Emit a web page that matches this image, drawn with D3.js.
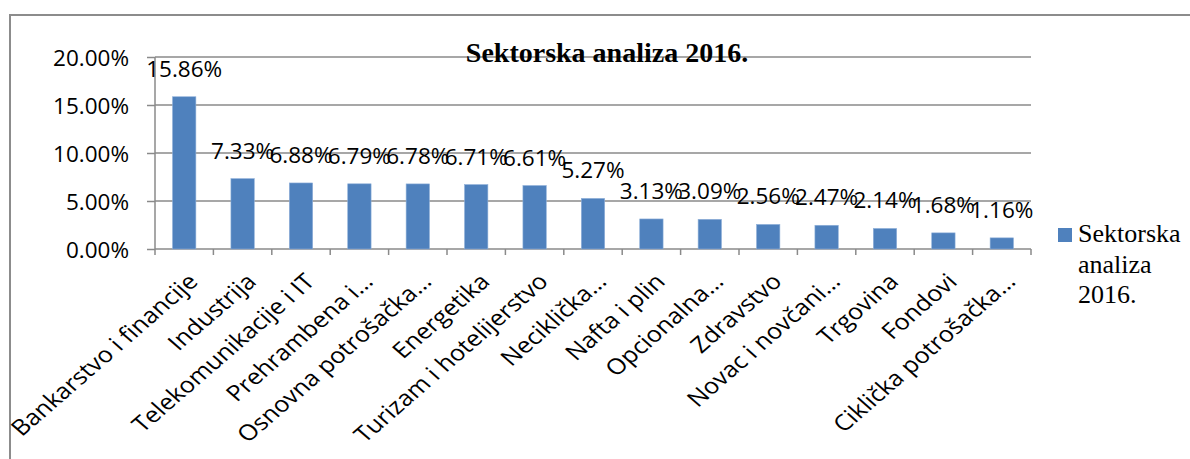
<!DOCTYPE html>
<html lang="hr">
<meta charset="utf-8" />
<style>
    body { margin: 0; background: #fff; }
    .grid line { stroke: #8a8a8a; stroke-width: 1.5px; }
    .axis path, .axis line { stroke: #8a8a8a; stroke-width: 1.5px; }
    .lbl { font-family: "Open Sans", sans-serif; fill: #000; }
</style>
<body>
<svg width="1190" height="459"></svg>
<script src="https://d3js.org/d3.v7.min.js"></script>
<script>
    // podaci
    var sectors = ["Bankarstvo i financije", "Industrija", "Telekomunikacije i IT", "Prehrambena i…",
        "Osnovna potrošačka…", "Energetika", "Turizam i hotelijerstvo", "Neciklička…", "Nafta i plin",
        "Opcionalna…", "Zdravstvo", "Novac i novčani…", "Trgovina", "Fondovi", "Ciklička potrošačka…"]
    var shares = [15.86, 7.33, 6.88, 6.79, 6.78, 6.71, 6.61, 5.27, 3.13, 3.09, 2.56, 2.47, 2.14, 1.68, 1.16]
    var yTicks = [0, 5, 10, 15, 20]
    var title = "Sektorska analiza 2016."
    var legendLines = ["Sektorska", "analiza", "2016."]

    var svg = d3.select("svg")

    // okvir grafikona
    svg.append("rect")
        .attr("x", 10).attr("y", 15)
        .attr("width", 1200).attr("height", 470)
        .attr("fill", "none")
        .attr("stroke", "#8c8c8c")
        .attr("stroke-width", 2)

    var pLeft = 155, pRight = 1031, pTop = 57, pBottom = 249

    var x = d3.scaleBand()
        .domain(sectors)
        .range([pLeft, pRight])
        .paddingInner(0.6)
        .paddingOuter(0.3)

    var y = d3.scaleLinear()
        .domain([0, 20])
        .range([pBottom, pTop])

    // mreza
    svg.append("g")
        .attr("class", "grid")
        .selectAll("line")
        .data(yTicks.filter(d => d > 0))
        .enter()
        .append("line")
        .attr("x1", pLeft).attr("x2", pRight)
        .attr("y1", d => y(d)).attr("y2", d => y(d))

    // os y
    var yAxis = svg.append("g")
        .attr("class", "axis")
        .attr("transform", "translate(" + pLeft + ",0)")
        .call(d3.axisLeft(y).tickValues(yTicks).tickSize(8).tickSizeOuter(0).tickFormat(d => d.toFixed(2) + "%"))
    yAxis.selectAll("text")
        .attr("class", "lbl")
        .attr("font-size", 22.5)
        .attr("x", -26)
        .attr("dy", "0.36em")
    yAxis.select(".domain").attr("d", "M0," + pTop + "V" + pBottom)

    // os x
    var step = (pRight - pLeft) / sectors.length
    var xAxis = svg.append("g").attr("class", "axis")
    xAxis.append("line")
        .attr("x1", pLeft).attr("x2", pRight)
        .attr("y1", pBottom).attr("y2", pBottom)
    xAxis.selectAll("line.tick")
        .data(d3.range(sectors.length + 1))
        .enter()
        .append("line")
        .attr("class", "tick")
        .attr("x1", d => pLeft + d * step).attr("x2", d => pLeft + d * step)
        .attr("y1", pBottom).attr("y2", pBottom + 6)

    svg.selectAll("text.xlbl")
        .data(sectors)
        .enter()
        .append("text")
        .attr("class", "lbl xlbl")
        .attr("font-size", 22)
        .attr("text-anchor", "end")
        .attr("transform", d => "translate(" + (x(d) + x.bandwidth() / 2 + 15) + "," + (pBottom + 34) + ") scale(1.15,1) rotate(-45)")
        .text(d => d)

    // stupci
    svg.selectAll("rect.bar")
        .data(sectors)
        .enter()
        .append("rect")
        .attr("class", "bar")
        .attr("x", d => x(d))
        .attr("width", x.bandwidth())
        .attr("y", (d, i) => y(shares[i]))
        .attr("height", (d, i) => pBottom - y(shares[i]))
        .attr("fill", "#4f81bd")
        .attr("stroke", "#8fb0d9")
        .attr("stroke-width", 0.6)

    // oznake vrijednosti
    svg.selectAll("text.val")
        .data(sectors)
        .enter()
        .append("text")
        .attr("class", "lbl val")
        .attr("font-size", 22.5)
        .attr("text-anchor", "middle")
        .attr("x", d => x(d) + x.bandwidth() / 2)
        .attr("y", (d, i) => y(shares[i]) - 20)
        .text((d, i) => shares[i].toFixed(2) + "%")

    // naslov
    svg.append("text")
        .attr("x", 607)
        .attr("y", 62)
        .attr("text-anchor", "middle")
        .attr("font-family", "Liberation Serif, serif")
        .attr("font-weight", "bold")
        .attr("font-size", 28)
        .text(title)

    // legenda
    svg.append("rect")
        .attr("x", 1058).attr("y", 228)
        .attr("width", 14).attr("height", 14)
        .attr("fill", "#4f81bd")
    svg.selectAll("text.leg")
        .data(legendLines)
        .enter()
        .append("text")
        .attr("class", "leg")
        .attr("x", 1078)
        .attr("y", (d, i) => 242 + i * 30.5)
        .attr("font-family", "Liberation Serif, serif")
        .attr("font-size", 26)
        .text(d => d)
</script>
</body>
</html>
